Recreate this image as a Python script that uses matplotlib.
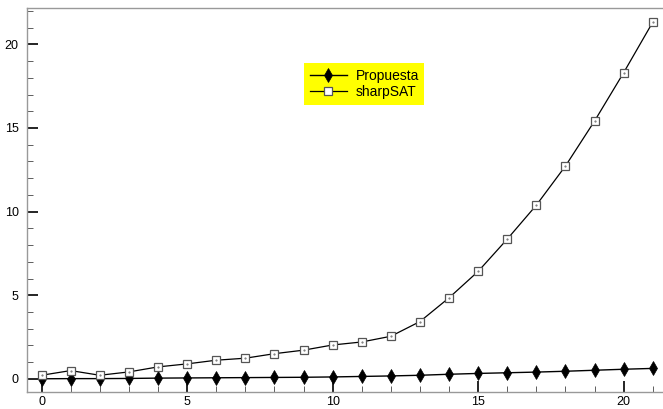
import matplotlib
matplotlib.use("Agg")
import matplotlib.pyplot as plt
from matplotlib.ticker import MultipleLocator

plt.rcParams['font.family'] = ['Liberation Sans', 'DejaVu Sans']

x_values = list(range(22))
propuesta = [0.01, 0.02, 0.02, 0.03, 0.05, 0.06, 0.07, 0.08, 0.09, 0.10, 0.12, 0.15,
             0.18, 0.22, 0.28, 0.33, 0.37, 0.41, 0.46, 0.52, 0.58, 0.63]
sharpsat = [0.22, 0.50, 0.22, 0.42, 0.72, 0.90, 1.12, 1.24, 1.51, 1.72, 2.03, 2.21,
            2.55, 3.43, 4.85, 6.43, 8.36, 10.39, 12.73, 15.42, 18.31, 21.33]
series_labels = ["Propuesta", "sharpSAT"]

W, H = 663, 409
fig = plt.figure(figsize=(W / 100, H / 100), dpi=100)
ax = fig.add_axes([27 / W, 17 / H, (W - 27) / W, (392 - 8) / H])

ax.plot(x_values, propuesta, color='black', lw=1.0, marker='d', markersize=7,
        markerfacecolor='black', markeredgecolor='black', markeredgewidth=0.5,
        label=series_labels[0], zorder=3)
ax.plot(x_values, sharpsat, color='black', lw=0.9, marker='s', markersize=6,
        markerfacecolor='white', markeredgecolor='#555555', markeredgewidth=0.9,
        label=series_labels[1], zorder=3)
ax.plot(x_values, sharpsat, ls='none', marker='.', markersize=1.0, color='#666666', zorder=4)

ax.set_xlim(-0.5, 21.35)
ax.set_ylim(-0.78, 22.17)

ax.xaxis.set_major_locator(MultipleLocator(5))
ax.xaxis.set_minor_locator(MultipleLocator(1))
ax.yaxis.set_major_locator(MultipleLocator(5))
ax.yaxis.set_minor_locator(MultipleLocator(1))
ax.tick_params(which='major', direction='in', length=8, width=1.2, color='black',
               labelsize=9)
ax.tick_params(axis='x', which='major', pad=3)
ax.tick_params(axis='y', which='major', pad=6)
ax.tick_params(which='minor', direction='in', length=4, width=0.6, color='#444444')
ax.tick_params(axis='x', which='both', top=False)
ax.tick_params(axis='y', which='both', right=False)

for s in ['left', 'bottom', 'top']:
    ax.spines[s].set_color('#999999')
    ax.spines[s].set_linewidth(1.0)
ax.spines['right'].set_visible(False)

leg = ax.legend(loc='upper left', bbox_to_anchor=(304 / W, 1 - 63 / H),
                bbox_transform=fig.transFigure, borderaxespad=0, fontsize=10,
                facecolor='#ffff00', edgecolor='none', framealpha=1, fancybox=False,
                numpoints=1, handlelength=2.7, labelspacing=0.2, borderpad=0.4,
                handletextpad=0.6)

fig.savefig('out.png', dpi=100)
